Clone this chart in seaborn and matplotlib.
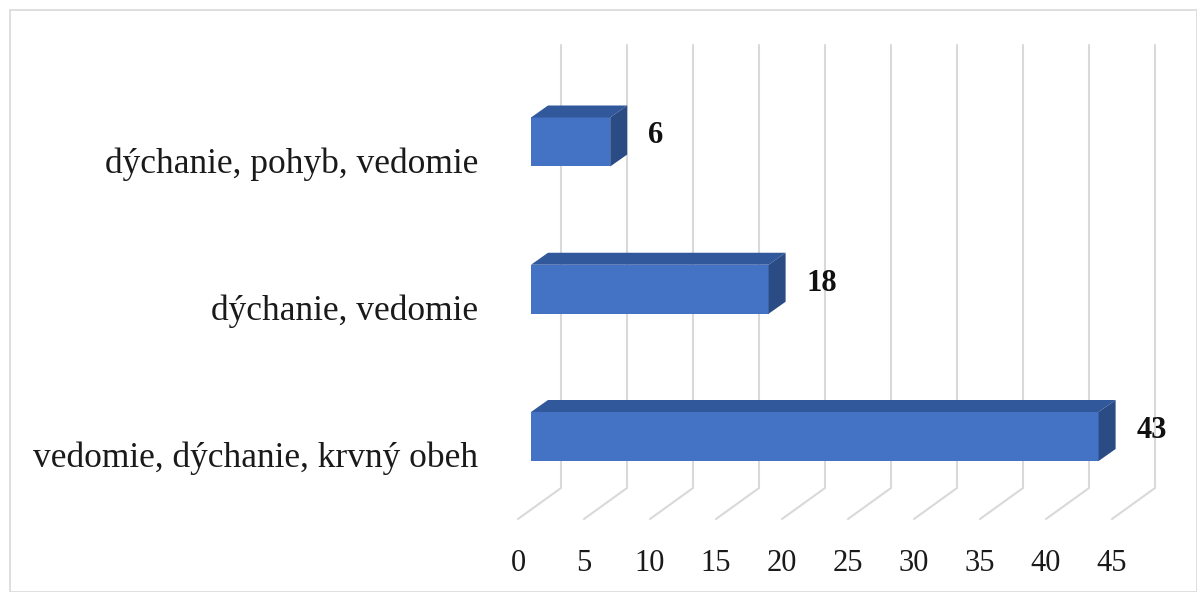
import matplotlib
matplotlib.use("Agg")
import matplotlib.pyplot as plt
from matplotlib.patches import Polygon, Rectangle
import seaborn as sns
import pandas as pd

categories = ["dýchanie, pohyb, vedomie", "dýchanie, vedomie", "vedomie, dýchanie, krvný obeh"]
values = [6, 18, 43]
ticks = [0, 5, 10, 15, 20, 25, 30, 35, 40, 45]

FRONT = "#4472C4"
TOP = "#31589A"
SIDE = "#2A4B84"
GRID = "#d9d9d9"
FONT = ["Liberation Serif", "DejaVu Serif"]

# pixel scale of the plot (figure is 1197x592 at dpi 100)
PX_X = 594 / 45.0      # px per unit on value axis
PX_Y = 147.25          # px per category step

def ux(px):
    return px / PX_X

def uy(px):
    return px / PX_Y

sns.set_theme(style="white")
plt.rcParams["font.family"] = FONT

df = pd.DataFrame({"kategoria": categories, "pocet": values})

fig = plt.figure(figsize=(11.97, 5.92), dpi=100)
ax = fig.add_axes([531 / 1197, 0, 594 / 1197, 1])
sns.barplot(data=df, y="kategoria", x="pocet", order=categories, orient="h",
            color=FRONT, saturation=1, width=uy(49), linewidth=0, ax=ax, zorder=3)
ax.set_xlim(0, 45)
ax.set_ylim(uy(450), -uy(142))
ax.set_axis_off()

# gridlines: back wall + floor
top_y = -uy(142 - 45)
floor_back = uy(488 - 142)
floor_front = uy(519 - 142)
for t in ticks:
    xb = t + ux(30)
    xf = t - ux(13)
    ax.plot([xb, xb, xf], [top_y, floor_back, floor_front], color=GRID, lw=1.5,
            clip_on=False, zorder=1, solid_joinstyle="miter")
    ax.text(xf, uy(571 - 142), str(t), ha="center", va="baseline", fontsize=22,
            color="#1a1a1a", clip_on=False)

# 3D faces on bars
dx, dy = ux(17), -uy(12)
for p in ax.patches:
    x0 = p.get_x()
    x1 = x0 + p.get_width()
    y0 = p.get_y()
    y1 = y0 + p.get_height()
    yt = min(y0, y1)
    yb = max(y0, y1)
    top = Polygon([(x0, yt), (x1, yt), (x1 + dx, yt + dy), (x0 + dx, yt + dy)],
                  closed=True, facecolor=TOP, edgecolor="none", zorder=3, clip_on=False)
    side = Polygon([(x1, yt), (x1 + dx, yt + dy), (x1 + dx, yb + dy), (x1, yb)],
                   closed=True, facecolor=SIDE, edgecolor="none", zorder=3, clip_on=False)
    ax.add_patch(top)
    ax.add_patch(side)

for i, v in enumerate(values):
    ax.text(v + dx + ux(21), i + uy(1.5), str(v), ha="left", va="baseline",
            fontsize=22, fontweight="bold", color="#111111", clip_on=False)
    ax.text(-ux(531 - 478), i + uy(31), categories[i], ha="right", va="baseline",
            fontsize=25.5, color="#1a1a1a", clip_on=False)

fig.patches.append(Rectangle((10 / 1197, 0), 1 - 10 / 1197 - 0.5 / 1197, 1 - 10 / 592,
                             transform=fig.transFigure, fill=False,
                             edgecolor="#d9d9d9", lw=1.2))

fig.savefig("out.png", dpi=100)
